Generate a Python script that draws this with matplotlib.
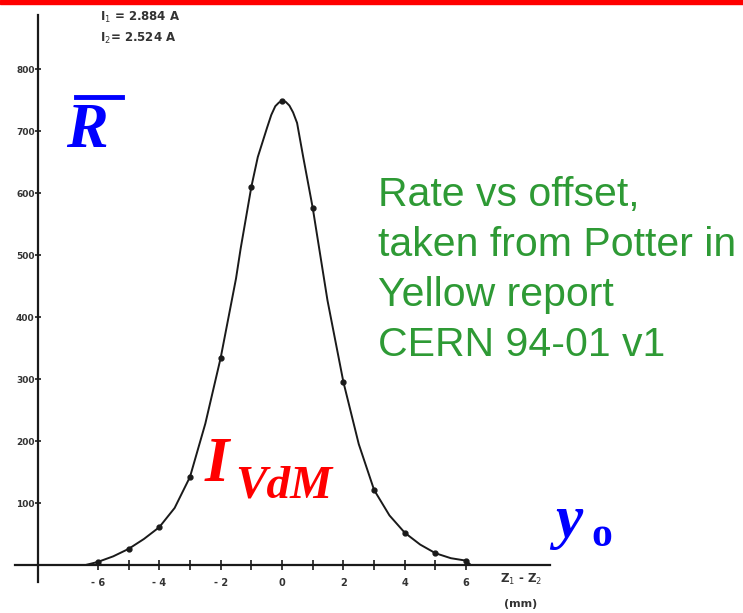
import numpy as np
import matplotlib
matplotlib.use("Agg")
import matplotlib.pyplot as plt
from matplotlib.lines import Line2D
from matplotlib.patches import Rectangle

# measured points (offset Z1-Z2 in mm, rate)
offset_pts = [-6, -5, -4, -3, -2, -1, 0, 1, 2, 3, 4, 5, 6]
rate_pts = [5, 26, 61, 142, 334, 610, 748, 576, 295, 121, 52, 19, 7]

# hand drawn curve through the points
curve_x = [-6.4, -6.0, -5.5, -5.0, -4.5, -4.0, -3.5, -3.0, -2.5, -2.0, -1.5, -1.35,
           -1.0, -0.79, -0.49, -0.35, -0.22, -0.1, 0.0, 0.12, 0.24, 0.36, 0.49, 0.69,
           1.0, 1.48, 2.0, 2.5, 3.0, 3.5, 4.0, 4.5, 5.0, 5.5, 6.0, 6.15]
curve_y = [0, 5, 14, 26, 42, 61, 92, 142, 228, 334, 462, 510,
           610, 658, 705, 726, 740, 746, 748, 747, 741, 730, 713, 658,
           576, 427, 295, 195, 121, 80, 52, 33, 19, 11, 7, 0]

xtick_pos = [-6, -4, -2, 0, 2, 4, 6]
xtick_lab = ['- 6', '- 4', '- 2', '0', '2', '4', '6']
ytick_pos = [100, 200, 300, 400, 500, 600, 700, 800]

W, H = 743, 613
fig = plt.figure(figsize=(W / 100, H / 100), dpi=100)
ax = fig.add_axes([0, 0, 1, 1])
ax.set_xlim(-9.19, 15.02)
ax.set_ylim(-77.4, 911.3)

ink = '#1a1a1a'
ax.plot(curve_x, curve_y, color=ink, lw=1.4, solid_capstyle='round',
        solid_joinstyle='round')
ax.plot(offset_pts, rate_pts, 'o', color=ink, ms=3.5)

for s in ['top', 'right']:
    ax.spines[s].set_visible(False)
ax.spines['left'].set_position(('data', -7.95))
ax.spines['left'].set_bounds(-27, 887)
ax.spines['bottom'].set_position(('data', 0))
ax.spines['bottom'].set_bounds(-8.7, 8.73)
for s in ['left', 'bottom']:
    ax.spines[s].set_linewidth(1.6)
    ax.spines[s].set_color(ink)

ax.set_xticks(xtick_pos)
ax.set_xticklabels(xtick_lab)
ax.set_xticks([-5, -3, -1, 1, 3, 5], minor=True)
ax.tick_params(axis='x', which='both', direction='inout', length=7, width=1.2,
               pad=6, labelsize=7, colors=ink)
ax.set_yticks(ytick_pos)
ax.set_yticklabels([str(v) for v in ytick_pos])
ax.tick_params(axis='y', direction='inout', length=5, width=1.2, pad=0,
               labelsize=6.5, colors=ink)
for lab in ax.get_xticklabels() + ax.get_yticklabels():
    lab.set_fontweight('bold')
    lab.set_color('#333333')


def px(x, y):
    return x / W, 1 - y / H


# red rule at the top
fig.patches.append(Rectangle((0, 1 - 4 / H), 1, 4 / H, transform=fig.transFigure,
                             color='red', zorder=5))

fig.text(*px(100, 17), 'I$_1$ = 2.884 A', fontsize=8.5, fontweight='bold',
         color='#333333', va='center')
fig.text(*px(100, 38), 'I$_2$= 2.524 A', fontsize=8.5, fontweight='bold',
         color='#333333', va='center')

fig.text(*px(500, 579), 'Z$_1$ - Z$_2$', fontsize=8.5, fontweight='bold',
         color='#333333', va='center')
fig.text(*px(504, 604), '(mm)', fontsize=8, fontweight='bold',
         color='#333333', va='center')

serif = 'Liberation Serif'
# R with overline
fig.text(*px(66, 147), 'R', fontsize=45, fontweight='bold', fontstyle='italic',
         family=serif, color='#0000ff', va='baseline')
fig.add_artist(Line2D([76 / W, 122 / W], [1 - 97 / H, 1 - 97 / H],
                      color='#0000ff', lw=3.5))

# I_VdM
fig.text(*px(205, 481), 'I', fontsize=45, fontweight='bold', fontstyle='italic',
         family=serif, color='#ff0000', va='baseline')
fig.text(*px(235, 498), 'VdM', fontsize=34, fontweight='bold', fontstyle='italic',
         family=serif, color='#ff0000', va='baseline')

# y_o
fig.text(*px(555, 537), 'y', fontsize=44, fontweight='bold', fontstyle='italic',
         family=serif, color='#0000ff', va='baseline')
fig.text(*px(591, 546), 'o', fontsize=30, fontweight='bold',
         family=serif, color='#0000ff', va='baseline')

fig.text(*px(378, 176), 'Rate vs offset,\ntaken from Potter in\nYellow report\nCERN 94-01 v1',
         fontsize=29.5, family='Liberation Sans', color='#2e9a35', va='top',
         linespacing=1.4)

fig.savefig('out.png', dpi=100)
